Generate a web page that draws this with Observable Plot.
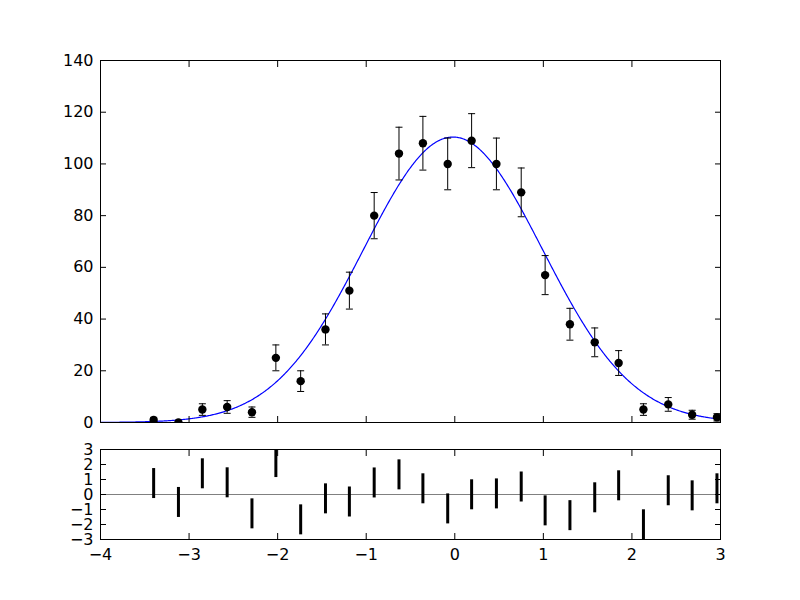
<!DOCTYPE html>
<html><head><meta charset="utf-8">
<script src="https://cdn.jsdelivr.net/npm/d3@7"></script>
<script src="https://cdn.jsdelivr.net/npm/@observablehq/plot@0.6"></script>
<style>
body{margin:0;background:#fff;}
#wrap{position:relative;width:800px;height:600px;background:#fff;}
#wrap > div{position:absolute;left:0;}
</style></head><body><div id="wrap"><div id="main" style="top:0"></div><div id="resid" style="top:436px"></div></div>
<script>
// bin centres
const xs = [-3.40, -3.12, -2.85, -2.57, -2.29, -2.02, -1.74, -1.46, -1.19, -0.91, -0.63, -0.36,
            -0.08, 0.19, 0.47, 0.75, 1.02, 1.30, 1.58, 1.85, 2.13, 2.41, 2.68, 2.96];
// counts
const counts = [1, 0, 5, 6, 4, 25, 16, 36, 51, 80, 104, 108, 100, 109, 100, 89, 57, 38, 31, 23, 5, 7, 3, 2];
// error bars
const errs = [1, 0, 2.24, 2.45, 2, 5, 4, 6, 7.14, 8.94, 10.2, 10.39, 10, 10.44, 10, 9.43, 7.55, 6.16, 5.57, 4.8, 2.24, 2.65, 1.73, 1.41];
// normalized residuals
const residuals = [0.73, -0.53, 1.38, 0.78, -1.29, 2.13, -1.69, -0.29, -0.5, 0.77, 1.31, 0.38,
                   -0.96, -0.02, 0.04, 0.5, -1.09, -1.41, -0.22, 0.58, -2.02, 0.25, -0.09, 0.38];
// Gaussian fit parameters
const fitAmplitude = 110.4, fitMean = -0.02, fitSigma = 1.01;
// ticks
const xTicks = [-4, -3, -2, -1, 0, 1, 2, 3];
const yTicksMain = [0, 20, 40, 60, 80, 100, 120, 140];
const yTicksResid = [-3, -2, -1, 0, 1, 2, 3];

const pts = xs.map((x, i) => ({x, y: counts[i], e: errs[i], r: residuals[i]}));
const withErr = pts.filter(d => d.e > 0);
const curve = d3.range(-4, 3.0001, 0.01).map(x => ({x, y: fitAmplitude * Math.exp(-((x - fitMean) ** 2) / (2 * fitSigma ** 2))}));

const cap = {draw(ctx, size) { const w = Math.sqrt(size / Math.PI); ctx.moveTo(-w, 0); ctx.lineTo(w, 0); }};
const fmt = d3.format("d");
const blank = () => "";
const style = {fontFamily: "DejaVu Sans", fontSize: "16px", background: "white", color: "black"};

const main = Plot.plot({
  width: 800, height: 436,
  marginLeft: 100, marginRight: 80, marginTop: 60, marginBottom: 14,
  style,
  x: {domain: [-4, 3]},
  y: {domain: [0, 140]},
  marks: [
    Plot.line(curve, {x: "x", y: "y", stroke: "#0000ff", strokeWidth: 1.2, clip: true}),
    Plot.ruleX(withErr, {x: "x", y1: d => d.y - d.e, y2: d => d.y + d.e, stroke: "black", strokeWidth: 1, clip: true}),
    Plot.dot(withErr, {x: "x", y: d => d.y + d.e, r: 3.5, symbol: cap, stroke: "black", fill: "none", strokeWidth: 1, clip: true}),
    Plot.dot(withErr, {x: "x", y: d => d.y - d.e, r: 3.5, symbol: cap, stroke: "black", fill: "none", strokeWidth: 1, clip: true}),
    Plot.dot(pts, {x: "x", y: "y", r: 4.2, fill: "black", stroke: "none", clip: true}),
    Plot.axisY(yTicksMain, {anchor: "left", tickSize: -6, tickPadding: 13, tickFormat: fmt, label: null}),
    Plot.axisY(yTicksMain, {anchor: "right", tickSize: -6, tickFormat: blank, label: null}),
    Plot.axisX(xTicks, {anchor: "bottom", tickSize: -6, tickFormat: blank, label: null}),
    Plot.axisX(xTicks, {anchor: "top", tickSize: -6, tickFormat: blank, label: null}),
    Plot.frame({stroke: "black", strokeWidth: 1})
  ]
});
document.getElementById("main").appendChild(main);

const resid = Plot.plot({
  width: 800, height: 164,
  marginLeft: 100, marginRight: 80, marginTop: 13, marginBottom: 61,
  style,
  x: {domain: [-4, 3]},
  y: {domain: [-3, 3]},
  marks: [
    Plot.ruleY([0], {stroke: "#808080", strokeWidth: 1}),
    Plot.ruleX(pts, {x: "x", y1: d => d.r - 1, y2: d => d.r + 1, stroke: "black", strokeWidth: 3, clip: true}),
    Plot.axisY(yTicksResid, {anchor: "left", tickSize: -6, tickPadding: 13, tickFormat: fmt, label: null}),
    Plot.axisY(yTicksResid, {anchor: "right", tickSize: -6, tickFormat: blank, label: null}),
    Plot.axisX(xTicks, {anchor: "bottom", tickSize: -6, tickPadding: 15, tickFormat: fmt, label: null}),
    Plot.axisX(xTicks, {anchor: "top", tickSize: -6, tickFormat: blank, label: null}),
    Plot.frame({stroke: "black", strokeWidth: 1})
  ]
});
document.getElementById("resid").appendChild(resid);
</script></body></html>
